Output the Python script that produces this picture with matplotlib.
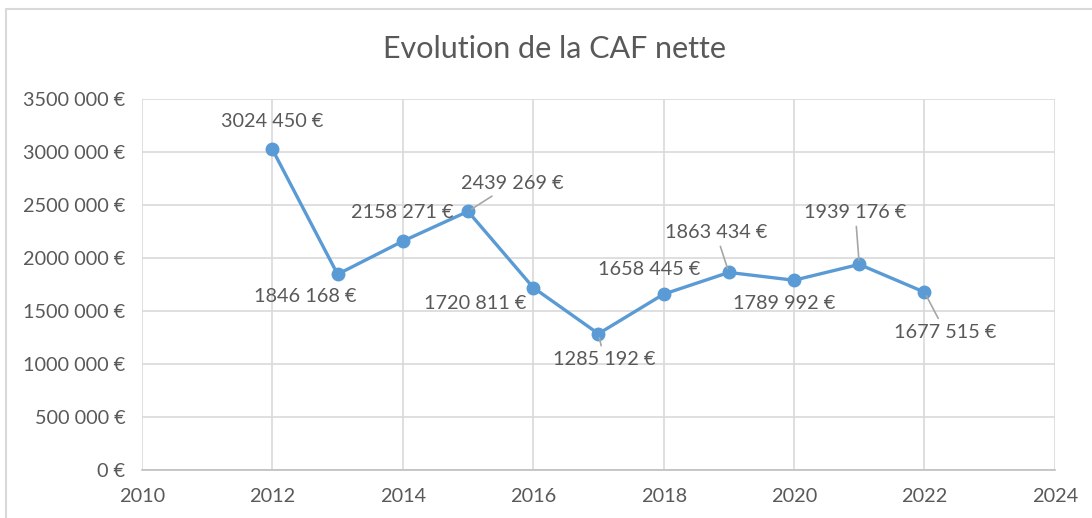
import matplotlib

matplotlib.use("Agg")
import matplotlib.pyplot as plt
from matplotlib.patches import Rectangle

plt.rcParams.update({
    "font.family": ["Lato", "DejaVu Sans"],
    "font.size": 14,
})

YEARS = [2012, 2013, 2014, 2015, 2016, 2017, 2018, 2019, 2020, 2021, 2022]
CAF = [3024450, 1846168, 2158271, 2439269, 1720811, 1285192,
       1658445, 1863434, 1789992, 1939176, 1677515]
# label offsets in pixels (dx, dy) and whether a leader line is drawn
OFFSETS = [(0, 28), (-32, -22), (-1, 29), (44, 28), (-58, -16), (6, -26),
           (-14, 25), (-13, 40), (-10, -23), (-4, 52), (21, -40)]
LEADER = [False, False, False, True, False, True,
          False, True, False, True, True]

TEXT = "#595959"
GRID = "#d9d9d9"
LINE = "#5b9bd5"


def fmt_euro(v):
    s = f"{int(v):,}".replace(",", " ")
    # Excel drops the millions separator in this format
    parts = s.split(" ")
    if len(parts) == 3:
        s = parts[0] + parts[1] + " " + parts[2]
    return s + " €"


fig = plt.figure(figsize=(10.92, 5.18), dpi=100)
ax = fig.add_axes([0.130, 0.0927, 0.836, 0.7163])

fig.patches.append(Rectangle((6 / 1092, -0.1), 1.2, 1.1 - 9 / 518,
                             transform=fig.transFigure, fill=False,
                             edgecolor=GRID, linewidth=1.5))

ax.plot(YEARS, CAF, color=LINE, linewidth=2.4, marker="o", markersize=9,
        zorder=3)

for x, y, (dx, dy), lead in zip(YEARS, CAF, OFFSETS, LEADER):
    kw = {}
    if lead:
        kw["arrowprops"] = dict(arrowstyle="-", color="#a6a6a6", lw=1.2,
                                shrinkA=2, shrinkB=3)
    ax.annotate(fmt_euro(y), (x, y), xytext=(dx, dy),
                textcoords="offset pixels", ha="center", va="center",
                fontsize=14.3, color=TEXT, zorder=4, **kw)

ax.set_xlim(2010, 2024)
ax.set_ylim(0, 3500000)
ax.set_xticks(range(2010, 2025, 2))
ax.set_yticks(range(0, 3500001, 500000))
ax.set_yticklabels([fmt_euro(v) for v in range(0, 3500001, 500000)])
ax.grid(True, color=GRID, linewidth=1.2)
ax.set_axisbelow(True)
for side in ["top", "right", "left"]:
    ax.spines[side].set_visible(False)
ax.spines["bottom"].set_color("#bfbfbf")
ax.spines["bottom"].set_linewidth(1.2)
ax.tick_params(length=0, colors=TEXT, labelsize=14.3)
ax.tick_params(axis="y", pad=12)
ax.tick_params(axis="x", pad=13)

fig.text(0.508, 0.905, "Evolution de la CAF nette", ha="center",
         va="center", fontsize=22, color=TEXT)

fig.savefig("out.png", dpi=100)
